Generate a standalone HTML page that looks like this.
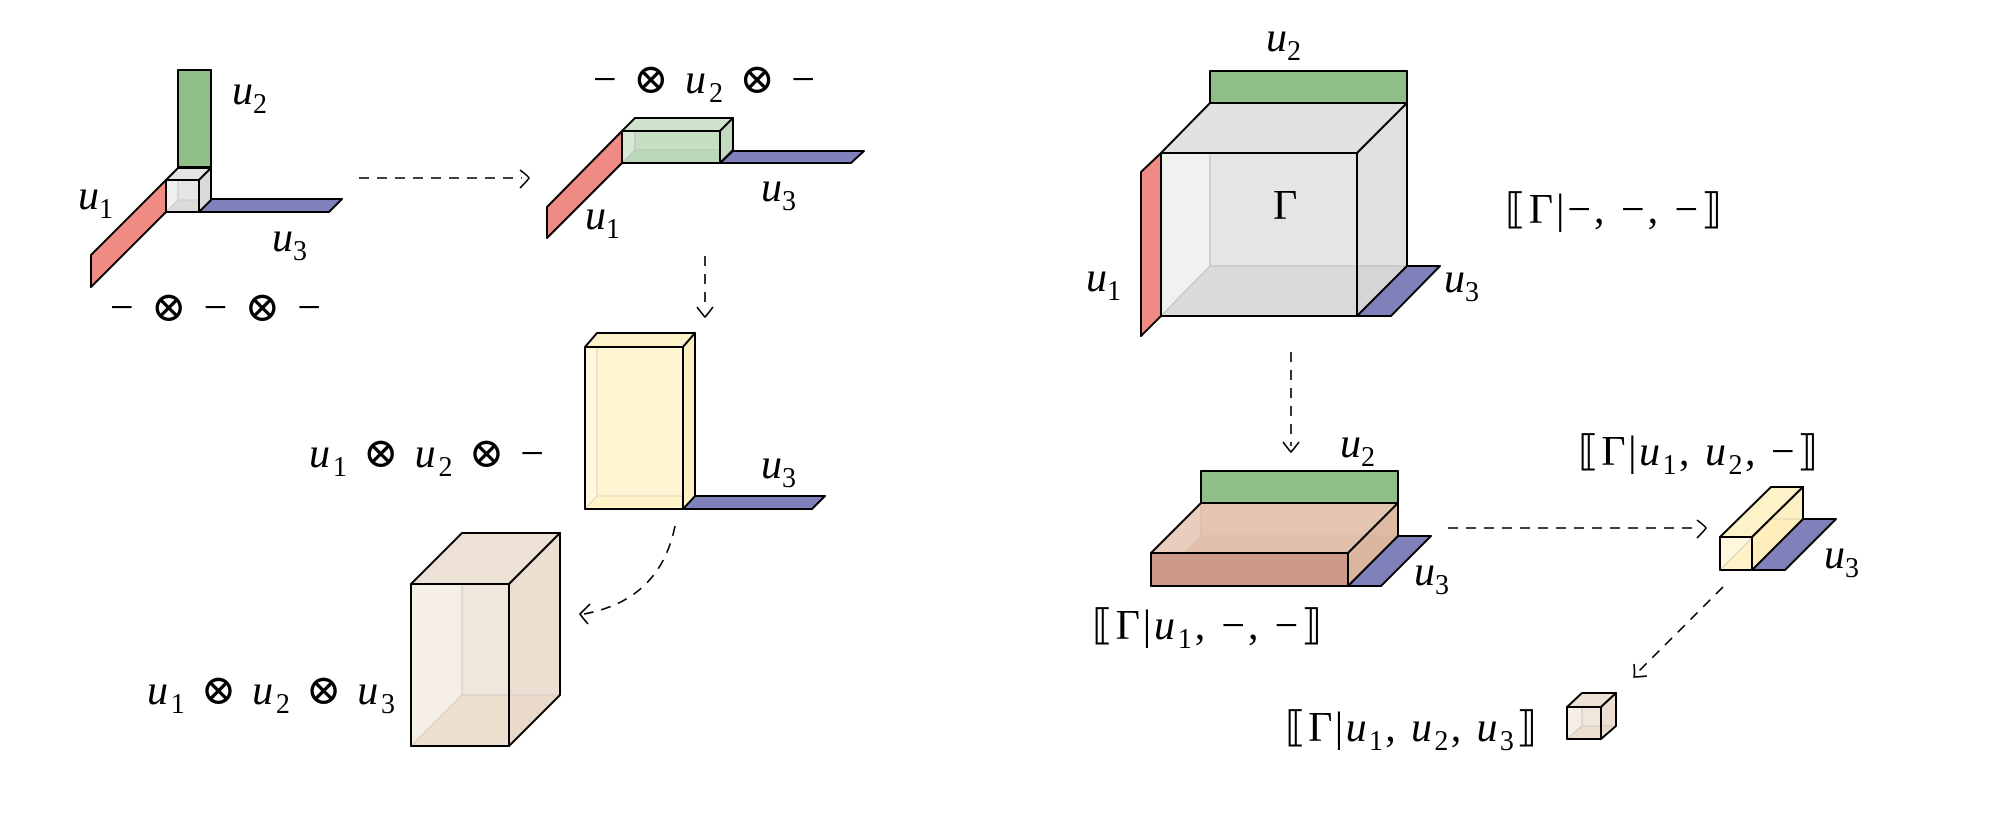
<!DOCTYPE html>
<html><head><meta charset="utf-8"><style>
html,body{margin:0;padding:0;background:#fff;}
svg{display:block;}
text{font-family:"Liberation Serif","DejaVu Serif",serif;font-size:42px;fill:#000;}
.i{font-style:italic;}
.s{font-size:28px;font-style:normal;}
.e{stroke:#000;stroke-width:2;stroke-linejoin:round;}
.h{stroke:#999;stroke-width:1.5;fill:none;}
.d{stroke:#000;stroke-width:1.6;fill:none;stroke-dasharray:10 8;}
.a{stroke:#000;stroke-width:1.6;fill:none;}
</style></head><body>
<svg width="1994" height="828" viewBox="0 0 1994 828" xmlns="http://www.w3.org/2000/svg">

<rect x="178" y="70" width="33" height="97" fill="#8fbf86" class="e"/>
<polygon points="166,180 166,212 91,287 91,255" fill="#f08a85" class="e"/>
<polygon points="199,212 211,199 342,199 329,212" fill="#8080bb" class="e"/>
<rect x="178" y="168" width="33" height="32" fill="#dcdcdc"/>
<polygon points="166,212 199,212 211,200 178,200" fill="#bdbdbd"/>
<path class="h" d="M178,168V200H211M178,200L166,212"/>
<rect x="166" y="180" width="33" height="32" fill="#e8e8e8" fill-opacity="0.7"/>
<polygon points="166,180 178,168 211,168 199,180" fill="#e4e4e4" class="e"/>
<polygon points="199,180 211,168 211,200 199,212" fill="#dadada" class="e"/>
<rect x="166" y="180" width="33" height="32" fill="none" class="e"/>
<text x="232" y="104" class="i">u<tspan class="s" dy="9">2</tspan></text>
<text x="78" y="209" class="i">u<tspan class="s" dy="9">1</tspan></text>
<text x="272" y="251" class="i">u<tspan class="s" dy="9">3</tspan></text>
<text x="110" y="321" textLength="211" lengthAdjust="spacing">− ⊗ − ⊗ −</text>

<path class="d" d="M359,178H522"/>
<path class="a" d="M520,170Q528,176 529,178Q528,180 520,188"/>

<polygon points="622,131 622,163 547,238 547,207" fill="#f08a85" class="e"/>
<polygon points="720,163 733,151 864,151 851,163" fill="#8080bb" class="e"/>
<rect x="635" y="118" width="98" height="32" fill="#c8dec5"/>
<polygon points="622,163 720,163 733,150 635,150" fill="#a0c9a4"/>
<path class="h" d="M635,118V150H733M635,150L622,163"/>
<rect x="622" y="131" width="98" height="32" fill="#c6dec4" fill-opacity="0.7"/>
<polygon points="622,131 635,118 733,118 720,131" fill="#cfe3cc" class="e"/>
<polygon points="720,131 733,118 733,150 720,163" fill="#c2dbbf" class="e"/>
<rect x="622" y="131" width="98" height="32" fill="none" class="e"/>
<text x="593" y="93" textLength="222" lengthAdjust="spacing">− ⊗ <tspan class="i">u</tspan><tspan class="s" dy="9">2</tspan><tspan dy="-9"> ⊗ −</tspan></text>
<text x="761" y="201" class="i">u<tspan class="s" dy="9">3</tspan></text>
<text x="585" y="229" class="i">u<tspan class="s" dy="9">1</tspan></text>

<path class="d" d="M705,256V310"/>
<path class="a" d="M697,307Q703,315 705,317Q707,315 713,307"/>

<polygon points="683,509 695,496 825,496 812,509" fill="#8080bb" class="e"/>
<rect x="597" y="333" width="98" height="163" fill="#fdf3cf"/>
<polygon points="585,509 683,509 695,496 597,496" fill="#fde9a8"/>
<path class="h" d="M597,333V496H695M597,496L585,509"/>
<rect x="585" y="347" width="98" height="162" fill="#fff5d3" fill-opacity="0.75"/>
<polygon points="585,347 597,333 695,333 683,347" fill="#fdf2c8" class="e"/>
<polygon points="683,347 695,333 695,496 683,509" fill="#fcefc0" class="e"/>
<rect x="585" y="347" width="98" height="162" fill="none" class="e"/>
<text x="761" y="478" class="i">u<tspan class="s" dy="9">3</tspan></text>
<text x="309" y="467" textLength="235" lengthAdjust="spacing"><tspan class="i">u</tspan><tspan class="s" dy="9">1</tspan><tspan dy="-9"> ⊗ </tspan><tspan class="i">u</tspan><tspan class="s" dy="9">2</tspan><tspan dy="-9"> ⊗ −</tspan></text>

<path class="d" d="M675,526Q660,600 584,614"/>
<path class="a" d="M590,604Q582,612 580,614Q582,617 588,624"/>

<rect x="462" y="533" width="98" height="162" fill="#ede0d3"/>
<polygon points="411,746 509,746 560,695 462,695" fill="#dfc8ad"/>
<path class="h" d="M462,533V695H560M462,695L411,746"/>
<rect x="411" y="584" width="98" height="162" fill="#f2e8de" fill-opacity="0.7"/>
<polygon points="411,584 462,533 560,533 509,584" fill="#eee2d6" class="e"/>
<polygon points="509,584 560,533 560,695 509,746" fill="#ebdfd2" fill-opacity="0.8" class="e"/>
<rect x="411" y="584" width="98" height="162" fill="none" class="e"/>
<text x="147" y="704" textLength="248" lengthAdjust="spacing"><tspan class="i">u</tspan><tspan class="s" dy="9">1</tspan><tspan dy="-9"> ⊗ </tspan><tspan class="i">u</tspan><tspan class="s" dy="9">2</tspan><tspan dy="-9"> ⊗ </tspan><tspan class="i">u</tspan><tspan class="s" dy="9">3</tspan></text>

<rect x="1210" y="71" width="197" height="32" fill="#8fbf86" class="e"/>
<rect x="1210" y="103" width="197" height="163" fill="#e0e0e0"/>
<polygon points="1161,316 1357,316 1407,266 1210,266" fill="#c6c6c6"/>
<path class="h" d="M1210,103V266H1407M1210,266L1161,316"/>
<rect x="1161" y="153" width="196" height="163" fill="#e8e8e8" fill-opacity="0.6"/>
<polygon points="1161,153 1210,103 1407,103 1357,153" fill="#e2e2e2" class="e"/>
<polygon points="1357,153 1407,103 1407,266 1357,316" fill="#e0e0e0" fill-opacity="0.6" class="e"/>
<rect x="1161" y="153" width="196" height="163" fill="none" class="e"/>
<polygon points="1161,153 1161,316 1141,336 1141,172" fill="#f08a85" class="e"/>
<polygon points="1357,316 1407,266 1440,266 1391,316" fill="#8080bb" class="e"/>
<text x="1273" y="219">Γ</text>
<text x="1266" y="51" class="i">u<tspan class="s" dy="9">2</tspan></text>
<text x="1086" y="291" class="i">u<tspan class="s" dy="9">1</tspan></text>
<text x="1444" y="292" class="i">u<tspan class="s" dy="9">3</tspan></text>
<text x="1505" y="223" textLength="217" lengthAdjust="spacing">⟦Γ|−, −, −⟧</text>

<path class="d" d="M1291,352V446"/>
<path class="a" d="M1283,442Q1289,450 1291,452Q1293,450 1299,442"/>

<rect x="1201" y="471" width="197" height="32" fill="#8fbf86" class="e"/>
<polygon points="1348,586 1398,536 1431,536 1381,586" fill="#8080bb" class="e"/>
<rect x="1201" y="503" width="197" height="33" fill="#e0c2ac"/>
<polygon points="1151,586 1348,586 1398,536 1201,536" fill="#d4a890"/>
<path class="h" d="M1201,503V536H1398M1201,536L1151,586"/>
<rect x="1151" y="553" width="197" height="33" fill="#cc9a86"/>
<polygon points="1151,553 1201,503 1398,503 1348,553" fill="#e4c6b1" fill-opacity="0.85" class="e"/>
<polygon points="1348,553 1398,503 1398,536 1348,586" fill="#dcb8a2" fill-opacity="0.85" class="e"/>
<rect x="1151" y="553" width="197" height="33" fill="none" class="e"/>
<text x="1340" y="457" class="i">u<tspan class="s" dy="9">2</tspan></text>
<text x="1414" y="585" class="i">u<tspan class="s" dy="9">3</tspan></text>
<text x="1092" y="639" textLength="230" lengthAdjust="spacing">⟦Γ|<tspan class="i">u</tspan><tspan class="s" dy="9">1</tspan><tspan dy="-9">, −, −⟧</tspan></text>

<path class="d" d="M1448,528H1700"/>
<path class="a" d="M1697,520Q1705,526 1706,528Q1705,530 1697,538"/>

<polygon points="1752,570 1803,519 1836,519 1785,570" fill="#8080bb" class="e"/>
<rect x="1771" y="487" width="32" height="32" fill="#fdf3cf"/>
<polygon points="1720,570 1752,570 1803,519 1771,519" fill="#fde9a8"/>
<path class="h" d="M1771,487V519H1803M1771,519L1720,570"/>
<rect x="1720" y="537" width="32" height="33" fill="#fff5d3" fill-opacity="0.7"/>
<polygon points="1720,537 1771,487 1803,487 1752,537" fill="#fdf2c8" class="e"/>
<polygon points="1752,537 1803,487 1803,519 1752,570" fill="#fcefc0" fill-opacity="0.8" class="e"/>
<rect x="1720" y="537" width="32" height="33" fill="none" class="e"/>
<text x="1824" y="568" class="i">u<tspan class="s" dy="9">3</tspan></text>
<text x="1578" y="465" textLength="240" lengthAdjust="spacing">⟦Γ|<tspan class="i">u</tspan><tspan class="s" dy="9">1</tspan><tspan dy="-9">, </tspan><tspan class="i">u</tspan><tspan class="s" dy="9">2</tspan><tspan dy="-9">, −⟧</tspan></text>

<path class="d" d="M1723,587L1638,672"/>
<path class="a" d="M1634,664Q1635,674 1634,677Q1638,677 1647,676"/>

<rect x="1582" y="693" width="34" height="33" fill="#ede0d3"/>
<polygon points="1567,739 1601,739 1616,726 1582,726" fill="#dfc8ad"/>
<path class="h" d="M1582,693V726H1616M1582,726L1567,739"/>
<rect x="1567" y="707" width="34" height="32" fill="#f2e8de" fill-opacity="0.7"/>
<polygon points="1567,707 1582,693 1616,693 1601,707" fill="#eee2d6" class="e"/>
<polygon points="1601,707 1616,693 1616,726 1601,739" fill="#ebdfd2" fill-opacity="0.8" class="e"/>
<rect x="1567" y="707" width="34" height="32" fill="none" class="e"/>
<text x="1285" y="741" textLength="252" lengthAdjust="spacing">⟦Γ|<tspan class="i">u</tspan><tspan class="s" dy="9">1</tspan><tspan dy="-9">, </tspan><tspan class="i">u</tspan><tspan class="s" dy="9">2</tspan><tspan dy="-9">, </tspan><tspan class="i">u</tspan><tspan class="s" dy="9">3</tspan><tspan dy="-9">⟧</tspan></text>

</svg>
</body></html>
